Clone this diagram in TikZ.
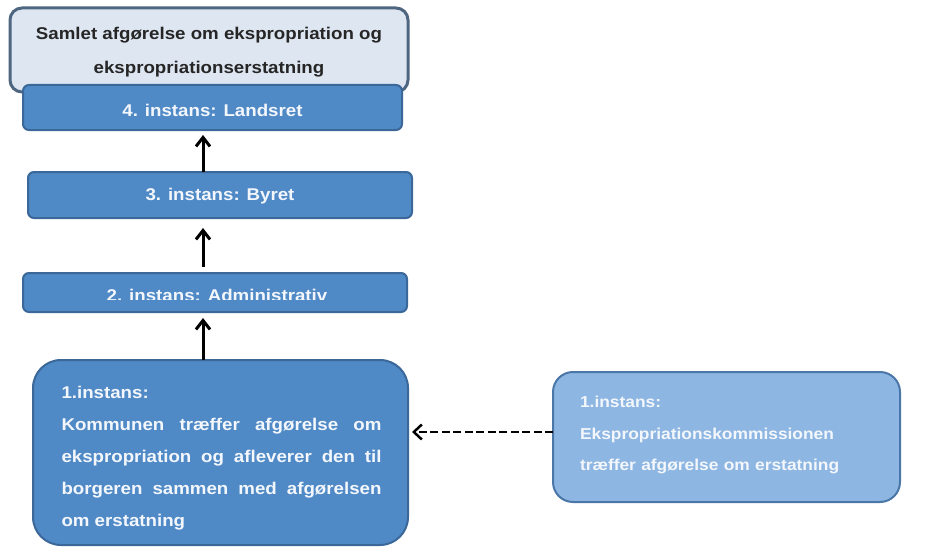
\documentclass[tikz,border=0pt]{standalone}
\usepackage{fontspec}
\newfontfamily\dfont[FakeStretch=1.1]{Liberation Sans}
\usetikzlibrary{arrows.meta}
\definecolor{boxblue}{HTML}{4F89C6}
\definecolor{boxedge}{HTML}{3B6899}
\definecolor{lightfill}{HTML}{DDE6F1}
\definecolor{lightedge}{HTML}{4E6680}
\definecolor{sidefill}{HTML}{8EB6E2}
\definecolor{sideedge}{HTML}{4A77A8}
\definecolor{boxtext}{HTML}{F3F7FC}
\definecolor{darktext}{HTML}{262626}
\begin{document}
\begin{tikzpicture}[x=1pt,y=-1pt,
  every node/.style={inner sep=0pt, outer sep=0pt},
  bluebox/.style={draw=boxedge, line width=2pt, fill=boxblue, rounded corners=6pt},
  topbox/.style={draw=lightedge, line width=3pt, fill=lightfill, rounded corners=12pt},
  bigbox/.style={draw=boxedge, line width=2pt, fill=boxblue, rounded corners=28pt},
  sidebox/.style={draw=sideedge, line width=2pt, fill=sidefill, rounded corners=20pt},
  whitetext/.style={text=boxtext, font=\dfont\bfseries\fontsize{17}{32}\selectfont},
  toptext/.style={text=darktext, align=center, font=\dfont\bfseries\fontsize{17}{34}\selectfont},
  bigtext/.style={whitetext, text width=320pt, align=justify},
  sidetext/.style={text=boxtext, text width=293pt, align=left, font=\dfont\bfseries\fontsize{15.8}{31.5}\selectfont},
  uparrow/.style={draw=black, line width=3pt, -{Straight Barb[length=9pt,width=14pt]}},
  dasharrow/.style={draw=black, line width=2.5pt, dash pattern=on 8pt off 3.5pt,
    -{Straight Barb[length=8pt,width=15pt]}}
]
\useasboundingbox[fill=white] (0,0) rectangle (927,551);

\node[topbox, minimum width=398pt, minimum height=84pt] (top) at (209,50) {};
\node[toptext] (topt) at (209,52) {Samlet afgørelse om ekspropriation og\\ekspropriationserstatning};
\node[bluebox, minimum width=379pt, minimum height=45pt] (b4) at (212.5,107.5) {};
\node[whitetext] (b4t) at (212.5,110) {4. instans: Landsret};
\node[bluebox, minimum width=384pt, minimum height=46pt] (b3) at (220,195) {};
\node[whitetext] (b3t) at (220,196.5) {3. instans: Byret};
\node[bluebox, minimum width=384pt, minimum height=39pt] (b2) at (215,292.5) {};
\begin{scope}
  \clip (20,270) rectangle (410,299.5);
  \node[whitetext] (b2t) at (217,295.5) {2. instans: Administrativ};
\end{scope}
\node[bigbox, minimum width=375pt, minimum height=185pt] (b1) at (220.5,452.5) {};
\node[bigtext] (b1t) at (221.5,458.5)
  {1.instans:\\Kommunen træffer afgørelse om\linebreak ekspropriation og afleverer den til\linebreak borgeren sammen med afgørelsen\linebreak om erstatning};
\node[sidebox, minimum width=347pt, minimum height=130pt] (e1) at (726.5,437) {};
\node[sidetext] (e1t) at (726.5,435)
  {1.instans:\\Ekspropriationskommissionen\\træffer afgørelse om erstatning};

\coordinate (ax) at (203,0);
\draw[uparrow, shorten >=5pt] (b3.north -| ax) -- (b4.south -| ax);
\draw[uparrow, shorten <=6pt, shorten >=10pt] (b2.north -| ax) -- (b3.south -| ax);
\draw[uparrow, shorten >=6pt] (b1.north -| ax) -- (b2.south -| ax);
\draw[dasharrow, shorten >=4pt] (e1.west |- 0,432) -- (b1.east |- 0,432);
\end{tikzpicture}
\end{document}
